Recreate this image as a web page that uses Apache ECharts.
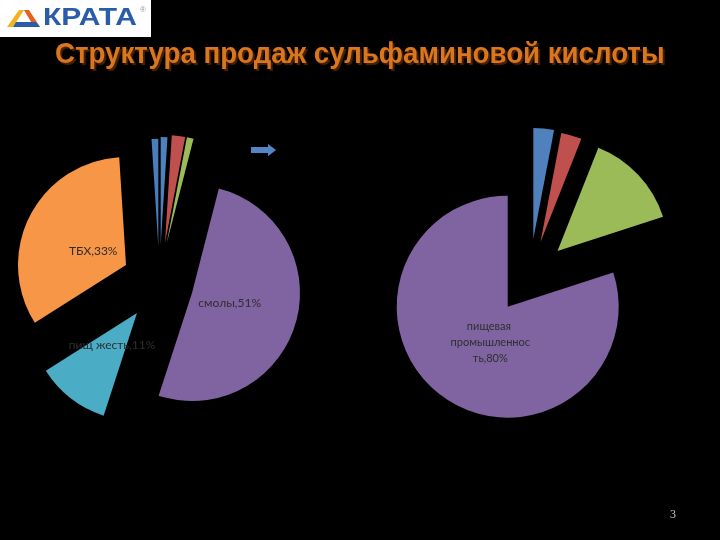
<!DOCTYPE html>
<html>
<head>
<meta charset="utf-8">
<script src="https://cdn.jsdelivr.net/npm/echarts@6/dist/echarts.min.js"></script>
<style>
html,body{margin:0;padding:0;background:#000;}
#chart{width:720px;height:540px;}
</style>
</head>
<body>
<div id="chart"></div>
<script>
// ---------- data ----------
const titleText = 'Структура продаж сульфаминовой кислоты';
const pageNumber = '3';
const logoText = 'КРАТА';

// left pie (clockwise from 12 o'clock)
const leftNames = ['прочие 1', 'прочие 2', 'прочие 3', 'смолы', 'пищ жесть', 'ТБХ', 'прочие 4'];
const leftValues = [1, 2, 1, 51, 11, 33, 1];
const leftShowLabel = [false, false, false, true, true, true, false];

// right pie (clockwise from 12 o'clock)
const rightNames = ['прочие 1', 'прочие 2', 'прочие 3', 'пищевая промышленность'];
const rightValues = [3, 3, 14, 80];
const rightShowLabel = [false, false, false, true];

// ---------- styles / layout ----------
const leftColors = ['#4F81BD', '#C0504D', '#9BBB59', '#8064A2', '#4BACC6', '#F79646', '#4A7DBC'];
const rightColors = ['#4F81BD', '#C0504D', '#9BBB59', '#8064A2'];
// exploded slice centres
const leftCenters = [[160.7, 245], [165, 243], [166.7, 243.3], [192, 293], [137, 313], [126, 265], [158.3, 246.7]];
const leftRadius = 108;
const leftNudge = [[0, 0], [0, 0], [0, 0], [-17, -6], [10, -13], [18, 12], [0, 0]];
const rightCenters = [[533.3, 239], [540.5, 242], [557.5, 251], [507.7, 306.7]];
const rightRadius = 111;
const rightNudge = [[0, 0], [0, 0], [0, 0], [17, -12]];

function sliceSeries(names, values, colors, showLabel, centers, radius, nudge, fontSize, labelWidth) {
  return values.map(function (v, i) {
    return {
      type: 'pie',
      silent: true,
      animation: false,
      startAngle: 90,
      clockwise: true,
      center: centers[i],
      radius: radius,
      avoidLabelOverlap: false,
      emphasis: { disabled: true },
      labelLine: { show: false },
      label: {
        position: 'inside',
        color: '#2e2e2e',
        fontFamily: 'Lato',
        fontSize: fontSize,
        lineHeight: fontSize + 5,
        width: labelWidth,
        overflow: 'break',
        align: 'center',
        formatter: function (p) { return p.name + ',' + p.value + '%'; }
      },
      labelLayout: function (p) {
        return { dx: nudge[i][0], dy: nudge[i][1] };
      },
      data: values.map(function (val, j) {
        return {
          name: names[j],
          value: val,
          itemStyle: { color: j === i ? colors[j] : 'rgba(0,0,0,0)' },
          label: { show: j === i && showLabel[j] }
        };
      })
    };
  });
}

const series = []
  .concat(sliceSeries(leftNames, leftValues, leftColors, leftShowLabel, leftCenters, leftRadius, leftNudge, 12, 300))
  .concat(sliceSeries(rightNames, rightValues, rightColors, rightShowLabel, rightCenters, rightRadius, rightNudge, 11, 133));

const chart = echarts.init(document.getElementById('chart'), null, { renderer: 'canvas' });
chart.setOption({
  backgroundColor: '#000000',
  animation: false,
  graphic: [
    { type: 'rect', shape: { x: 0, y: 0, width: 151, height: 37 }, style: { fill: '#ffffff' }, silent: true },
    { type: 'polygon', shape: { points: [[7, 27], [19, 10], [24, 10], [13, 27]] }, style: { fill: '#F2B31B' } },
    { type: 'polygon', shape: { points: [[24, 10], [29, 10], [40, 27], [34, 27]] }, style: { fill: '#E5601F' } },
    { type: 'polygon', shape: { points: [[13, 27], [40, 27], [36, 22], [16, 22]] }, style: { fill: '#2A5CAA' } },
    { type: 'text', x: 43, y: 18, scaleX: 1.25, style: { text: logoText, font: 'bold 24px "Liberation Sans", Arial, sans-serif', fill: '#2A5CAA', textVerticalAlign: 'middle' } },
    { type: 'text', x: 140, y: 6, style: { text: '®', font: '8px "Liberation Sans", sans-serif', fill: '#999999' } },
    { type: 'text', x: 55, y: 55, scaleX: 0.922, style: {
        text: titleText, font: 'bold 30px "Liberation Sans", Arial, sans-serif', fill: '#DA771E',
        textVerticalAlign: 'middle',
        textShadowColor: '#4a2200', textShadowOffsetX: 2, textShadowOffsetY: 2, textShadowBlur: 1 } },
    { type: 'polygon', shape: { points: [[251, 147], [268, 147], [268, 144], [276, 150], [268, 156.3], [268, 153], [251, 153]] }, style: { fill: '#5585C5' } },
    { type: 'text', x: 673, y: 515, style: { text: pageNumber, font: '12px "Liberation Serif", serif', fill: '#c8c8c8', textAlign: 'center', textVerticalAlign: 'middle' } }
  ],
  series: series
});
</script>
</body>
</html>
